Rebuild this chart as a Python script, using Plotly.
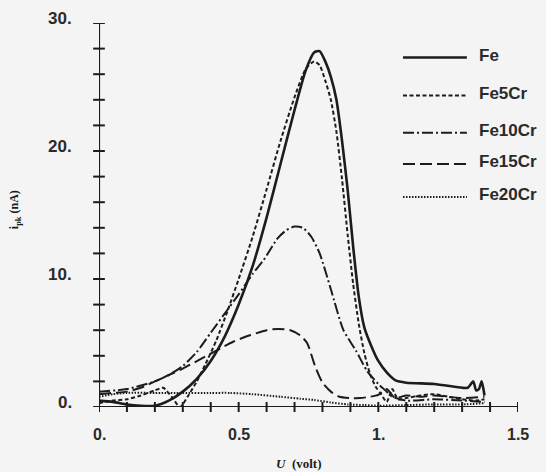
import plotly.graph_objects as go

# ---- data ----
fe_x = [0, 0.05, 0.1, 0.15, 0.2, 0.25, 0.3, 0.35, 0.4, 0.45, 0.5, 0.55, 0.6, 0.65, 0.7, 0.74,
        0.77, 0.79, 0.81, 0.83, 0.85, 0.87, 0.89, 0.91, 0.93, 0.95, 0.98, 1.0, 1.03, 1.06, 1.1,
        1.2, 1.3, 1.32, 1.34, 1.35, 1.36, 1.37, 1.38]
fe_y = [0.5, 0.4, 0.2, 0.1, 0.1, 0.5, 1.2, 2.2, 3.6, 5.5, 8.0, 11.0, 14.8, 19.0, 23.2, 26.3,
        27.7, 27.8, 27.0, 25.8, 24.0, 20.8, 17.0, 12.5, 8.6, 6.2, 4.5, 3.6, 2.7, 2.1, 1.9,
        1.8, 1.5, 1.5, 2.0, 1.3, 1.4, 2.0, 0.9]

fe5_x = [0, 0.05, 0.1, 0.15, 0.2, 0.23, 0.26, 0.29, 0.32, 0.35, 0.38, 0.42, 0.46, 0.5, 0.55,
         0.6, 0.65, 0.7, 0.74, 0.77, 0.79, 0.81, 0.83, 0.85, 0.87, 0.89, 0.91, 0.93, 0.95, 0.97,
         0.99, 1.01, 1.03, 1.05, 1.07, 1.1, 1.15, 1.2, 1.25, 1.3, 1.35, 1.38]
fe5_y = [0.3, 0.5, 0.6, 0.9, 1.3, 1.5, 0.8, 0.0, 0.9, 2.0, 3.3, 5.2, 7.5, 10.0, 13.3,
         17.0, 20.8, 24.2, 26.4, 27.0, 26.7, 25.5, 24.0, 21.5, 17.8, 13.5, 9.6, 6.5, 4.2, 2.6,
         1.6, 1.0, 0.4, 1.4, 0.6, 0.7, 0.9, 1.0, 0.8, 0.6, 0.5, 0.6]

fe10_x = [0, 0.1, 0.2, 0.25, 0.3, 0.35, 0.4, 0.45, 0.5, 0.55, 0.59, 0.64, 0.67, 0.7, 0.73,
          0.76, 0.79, 0.83, 0.875, 0.92, 0.96, 1.0, 1.025, 1.05, 1.1, 1.2, 1.3, 1.38]
fe10_y = [1.2, 1.4, 2.0, 2.5, 3.2, 4.3, 5.8, 7.3, 8.8, 10.4, 11.5, 13.2, 13.8, 14.1, 14.0,
          13.3, 12.0, 9.2, 6.0, 4.4, 2.8, 1.8, 1.3, 0.8, 0.5, 0.6, 0.5, 0.4]

fe15_x = [0, 0.05, 0.1, 0.15, 0.2, 0.25, 0.3, 0.36, 0.42, 0.48, 0.54, 0.6, 0.64, 0.685, 0.72,
          0.745, 0.775, 0.8, 0.83, 0.86, 0.9, 0.935, 0.97, 1.0, 1.03, 1.06, 1.1, 1.15, 1.2,
          1.3, 1.38]
fe15_y = [1.0, 1.1, 1.2, 1.5, 2.0, 2.5, 3.0, 3.7, 4.4, 5.1, 5.6, 6.0, 6.1, 6.0, 5.6,
          5.0, 3.1, 1.9, 1.2, 0.8, 0.7, 0.7, 0.8, 0.95, 1.4, 0.7, 0.9, 0.8, 0.9,
          0.7, 0.8]

fe20_x = [0, 0.05, 0.1, 0.2, 0.3, 0.4, 0.47, 0.55, 0.65, 0.72, 0.77, 0.83, 0.89, 0.95, 1.0,
          1.1, 1.2, 1.3, 1.38]
fe20_y = [0.8, 1.0, 1.1, 1.1, 1.1, 1.1, 1.1, 1.0, 0.8, 0.65, 0.55, 0.35, 0.2, 0.15, 0.1,
          0.15, 0.2, 0.2, 0.3]

names = ["Fe", "Fe5Cr", "Fe10Cr", "Fe15Cr", "Fe20Cr"]
xs = [fe_x, fe5_x, fe10_x, fe15_x, fe20_x]
ys = [fe_y, fe5_y, fe10_y, fe15_y, fe20_y]

x_tick_vals = [0, 0.5, 1.0, 1.5]
x_tick_text = ["0.", "0.5", "1.", "1.5"]
y_tick_vals = [0, 10, 20, 30]
y_tick_text = ["0.", "10.", "20.", "30."]
x_minor = [i / 10 for i in range(0, 16)]
y_minor = list(range(0, 31, 2))

# ---- styles ----
INK = "#1c1c1c"
LBL = "#2a2a2a"
dashes = ["solid", "4px,2.5px", "11px,3px,2px,3px", "12px,5px", "1.5px,1.5px"]
widths = [2.6, 2.0, 2.0, 2.0, 2.0]

fig = go.Figure()
for n, x, y, d, w in zip(names, xs, ys, dashes, widths):
    fig.add_trace(go.Scatter(x=x, y=y, mode="lines", name=n, showlegend=False,
                             line=dict(color=INK, width=w, dash=d, shape="spline", smoothing=0.6),
                             cliponaxis=False, hoverinfo="skip"))

shapes = []
# axis lines
shapes.append(dict(type="line", xref="x", yref="y", x0=0, x1=1.5, y0=0, y1=0,
                   line=dict(color=INK, width=2.2)))
shapes.append(dict(type="line", xref="x", yref="y", x0=0, x1=0, y0=0, y1=30,
                   line=dict(color=INK, width=2.2)))
# crossing tick marks
for t in x_minor:
    shapes.append(dict(type="line", xref="x", yref="y domain", x0=t, x1=t, y0=-0.013, y1=0.013,
                       line=dict(color=INK, width=2)))
for t in y_minor:
    shapes.append(dict(type="line", xref="x domain", yref="y", x0=-0.014, x1=0.014, y0=t, y1=t,
                       line=dict(color=INK, width=2)))

annotations = []
for v, t in zip(x_tick_vals, x_tick_text):
    annotations.append(dict(x=v, y=0, xref="x", yref="y", text="<b>" + t + "</b>", showarrow=False,
                            xanchor="center", yanchor="top", yshift=-17,
                            font=dict(family="Liberation Sans", size=16, color=LBL)))
for v, t in zip(y_tick_vals, y_tick_text):
    annotations.append(dict(x=0, y=v, xref="x", yref="y", text="<b>" + t + "</b>", showarrow=False,
                            xanchor="right", yanchor="middle", xshift=-25, yshift=5,
                            font=dict(family="Liberation Sans", size=17, color=LBL)))

# legend (drawn manually)
leg_y = [0.91, 0.811, 0.714, 0.633, 0.547]
for n, d, w, ly in zip(names, dashes, widths, leg_y):
    shapes.append(dict(type="line", xref="x domain", yref="y domain", x0=0.7255, x1=0.878,
                       y0=ly, y1=ly, line=dict(color=INK, width=w, dash=d)))
    annotations.append(dict(x=0.902, y=ly, xref="x domain", yref="y domain", text="<b>" + n + "</b>",
                            showarrow=False, xanchor="left", yanchor="middle", yshift=2,
                            font=dict(family="Liberation Sans", size=17, color=LBL)))

# axis titles
annotations.append(dict(x=0.477, y=-0.146, xref="x domain", yref="y domain",
                        text="<b><i>U</i>  (volt)</b>", showarrow=False, xanchor="center",
                        yanchor="middle",
                        font=dict(family="Liberation Serif", size=13, color=INK)))
annotations.append(dict(x=-0.2, y=0.513, xref="x domain", yref="y domain",
                        text="<b>i<sub>pk</sub> (nA)</b>", showarrow=False, textangle=-90,
                        xanchor="center", yanchor="middle",
                        font=dict(family="Liberation Serif", size=12, color=INK)))

fig.update_layout(
    width=546, height=472,
    margin=dict(l=99, r=28, t=23, b=65),
    paper_bgcolor="#f4f4f4", plot_bgcolor="#f4f4f4",
    xaxis=dict(range=[0, 1.5], showgrid=False, zeroline=False, showline=False,
               showticklabels=False, ticks=""),
    yaxis=dict(range=[0, 30], showgrid=False, zeroline=False, showline=False,
               showticklabels=False, ticks=""),
    shapes=shapes, annotations=annotations, showlegend=False, hovermode=False,
)
fig.write_html("out.html", config={"displayModeBar": False},
               post_script="document.body.style.margin='0';document.body.style.overflow='hidden';")
